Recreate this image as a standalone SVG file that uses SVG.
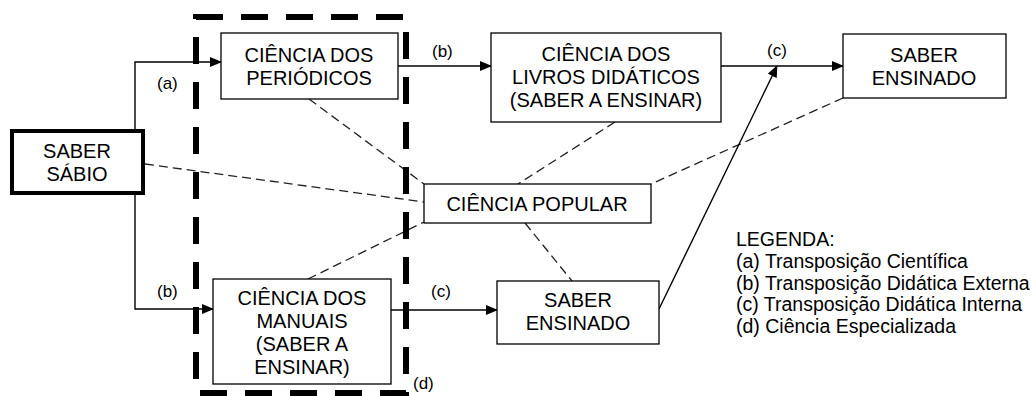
<svg xmlns="http://www.w3.org/2000/svg" width="1033" height="396" viewBox="0 0 1033 396">
<style>
text{font-family:"Liberation Sans",Arial,sans-serif;fill:#000}
.n{font-size:20px;text-anchor:middle}
.l{font-size:17px}
.g{font-size:19.5px}
.box{fill:#fff;stroke:#000;stroke-width:1.3}
.thick{fill:#fff;stroke:#000;stroke-width:4}
.arr{fill:none;stroke:#000;stroke-width:1.4;marker-end:url(#ah)}
.dsh{fill:none;stroke:#222;stroke-width:1.3;stroke-dasharray:9 5}
.frame{fill:none;stroke:#000;stroke-width:6;stroke-dasharray:27 18}
</style>
<defs>
<marker id="ah" markerUnits="userSpaceOnUse" markerWidth="12" markerHeight="10" refX="11" refY="5" orient="auto">
<path d="M0,0 L12,5 L0,10 Z" fill="#000"/>
</marker>
</defs>
<rect width="1033" height="396" fill="#fff"/>
<g id="connectors">
<path class="dsh" d="M309,99 L424,184"/>
<path class="dsh" d="M145,164 L424,202"/>
<path class="dsh" d="M308,279 L424,222"/>
<path class="dsh" d="M615,122 L518,184"/>
<path class="dsh" d="M843,98 L651,184"/>
<path class="dsh" d="M525,223 L572,281"/>
<path class="arr" d="M135,131 V62 H221"/>
<path class="arr" d="M135,193 V309 H213"/>
<path class="arr" d="M398,66 H491"/>
<path class="arr" d="M721,66 H843"/>
<path class="arr" d="M391,310 H497"/>
<path class="arr" d="M659,309 L777,66"/>
<text class="l" x="157" y="89">(a)</text>
<text class="l" x="157" y="297">(b)</text>
<text class="l" x="432" y="57">(b)</text>
<text class="l" x="767" y="56">(c)</text>
<text class="l" x="431" y="297">(c)</text>
</g>
<g id="frame">
<rect class="frame" x="196" y="17" width="210" height="376"/>
<text class="l" x="413" y="389">(d)</text>
</g>
<g id="saber-sabio">
<rect class="thick" x="12" y="131" width="131" height="62"/>
<text class="n" x="77" y="158">SABER</text>
<text class="n" x="77" y="181">SÁBIO</text>
</g>
<g id="ciencia-periodicos">
<rect class="box" x="221" y="33" width="177" height="66"/>
<text class="n" x="309" y="61.5">CIÊNCIA DOS</text>
<text class="n" x="309" y="84.5">PERIÓDICOS</text>
</g>
<g id="ciencia-livros">
<rect class="box" x="491" y="33" width="230" height="89"/>
<text class="n" x="606" y="61">CIÊNCIA DOS</text>
<text class="n" x="606" y="84">LIVROS DIDÁTICOS</text>
<text class="n" x="606" y="107">(SABER A ENSINAR)</text>
</g>
<g id="saber-ensinado-top">
<rect class="box" x="843" y="34" width="163" height="64"/>
<text class="n" x="924" y="61.5">SABER</text>
<text class="n" x="924" y="84.5">ENSINADO</text>
</g>
<g id="ciencia-popular">
<rect class="box" x="424" y="184" width="227" height="39"/>
<text class="n" x="537" y="211">CIÊNCIA POPULAR</text>
</g>
<g id="ciencia-manuais">
<rect class="box" x="213" y="279" width="178" height="105"/>
<text class="n" x="302" y="304.5">CIÊNCIA DOS</text>
<text class="n" x="302" y="327.5">MANUAIS</text>
<text class="n" x="302" y="350.5">(SABER A</text>
<text class="n" x="302" y="373.5">ENSINAR)</text>
</g>
<g id="saber-ensinado-bottom">
<rect class="box" x="497" y="281" width="162" height="63"/>
<text class="n" x="578" y="307">SABER</text>
<text class="n" x="578" y="330">ENSINADO</text>
</g>
<g id="legenda">
<text class="g" x="736" y="246">LEGENDA:</text>
<text class="g" x="736" y="268">(a) Transposição Científica</text>
<text class="g" x="736" y="290">(b) Transposição Didática Externa</text>
<text class="g" x="736" y="311">(c) Transposição Didática Interna</text>
<text class="g" x="736" y="333">(d) Ciência Especializada</text>
</g>
</svg>
